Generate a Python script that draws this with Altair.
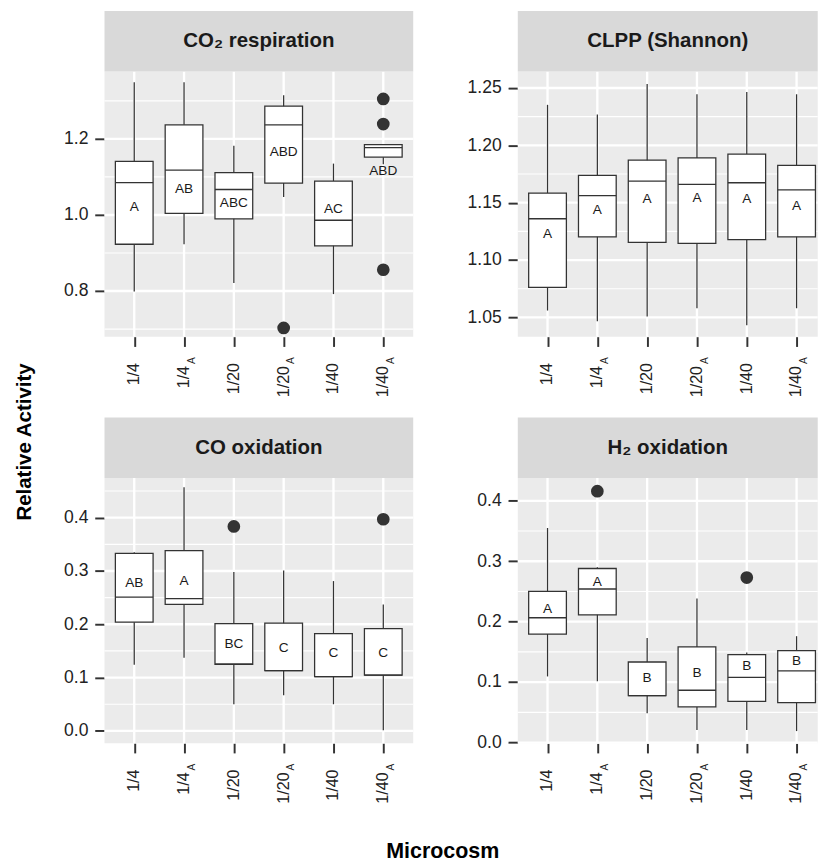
import altair as alt
import pandas as pd

FONT = "Liberation Sans"

cats = ["1/4", "1/4A", "1/20", "1/20A", "1/40", "1/40A"]
label_main = ["1/4", "1/4", "1/20", "1/20", "1/40", "1/40"]
label_sub = ["", "A", "", "A", "", "A"]

# CO2 respiration
co2_lo = [0.799, 0.923, 0.821, 1.047, 0.792, 1.133]
co2_q1 = [0.923, 1.004, 0.990, 1.084, 0.919, 1.152]
co2_med = [1.085, 1.118, 1.067, 1.237, 0.986, 1.177]
co2_q3 = [1.141, 1.237, 1.111, 1.286, 1.089, 1.185]
co2_hi = [1.349, 1.349, 1.182, 1.315, 1.135, 1.185]
co2_letters = ["A", "AB", "ABC", "ABD", "AC", "ABD"]
co2_letter_y = [1.021, 1.067, 1.030, 1.164, 1.015, 1.114]
co2_out_cat = ["1/20A", "1/40A", "1/40A", "1/40A"]
co2_out_val = [0.703, 1.305, 1.239, 0.856]

# CLPP (Shannon)
clpp_lo = [1.056, 1.0467, 1.0509, 1.058, 1.0431, 1.058]
clpp_q1 = [1.0762, 1.1203, 1.1155, 1.1146, 1.1178, 1.1203]
clpp_med = [1.136, 1.1561, 1.1688, 1.166, 1.1674, 1.1612]
clpp_q3 = [1.1584, 1.1738, 1.187, 1.189, 1.1924, 1.1826]
clpp_hi = [1.2353, 1.2269, 1.2535, 1.2445, 1.2465, 1.2445]
clpp_letters = ["A", "A", "A", "A", "A", "A"]
clpp_letter_y = [1.1225, 1.1438, 1.1534, 1.154, 1.1534, 1.1472]
clpp_out_cat = []
clpp_out_val = []

# CO oxidation
co_lo = [0.124, 0.137, 0.050, 0.067, 0.050, 0.001]
co_q1 = [0.204, 0.2374, 0.125, 0.113, 0.1017, 0.1047]
co_med = [0.251, 0.248, 0.125, 0.113, 0.1017, 0.1047]
co_q3 = [0.333, 0.338, 0.201, 0.202, 0.1826, 0.192]
co_hi = [0.335, 0.457, 0.298, 0.301, 0.281, 0.237]
co_letters = ["AB", "A", "BC", "C", "C", "C"]
co_letter_y = [0.277, 0.281, 0.1626, 0.156, 0.1455, 0.146]
co_out_cat = ["1/20", "1/40A"]
co_out_val = [0.3836, 0.397]

# H2 oxidation
h2_lo = [0.1094, 0.1015, 0.0483, 0.0207, 0.0207, 0.019]
h2_q1 = [0.1795, 0.2114, 0.0776, 0.059, 0.068, 0.0659]
h2_med = [0.2066, 0.254, 0.0776, 0.0866, 0.1078, 0.1185]
h2_q3 = [0.250, 0.288, 0.1333, 0.1583, 0.1455, 0.152]
h2_hi = [0.355, 0.290, 0.173, 0.2385, 0.149, 0.176]
h2_letters = ["A", "A", "B", "B", "B", "B"]
h2_letter_y = [0.22, 0.266, 0.1068, 0.1147, 0.127, 0.134]
h2_out_cat = ["1/4A", "1/40"]
h2_out_val = [0.416, 0.273]

H = 272
BOXW = 38.7
DARK = "#333333"
TXT = "#1a1a1a"


def panel(title, lo, q1, med, q3, hi, letters, letter_y, out_cat, out_val,
          domain, ticks, minor, fmt, width):
    box = pd.DataFrame(dict(cat=cats, lo=lo, q1=q1, med=med, q3=q3, hi=hi,
                            letter=letters, ly=letter_y,
                            main=label_main, sub=label_sub))
    xscale = alt.Scale(type="point", domain=cats, range=[30.5, 286.0], padding=0)
    xaxis = alt.Axis(labels=False, title=None, ticks=True, tickSize=10,
                     tickWidth=2, tickColor=DARK, grid=False, domain=False)
    yscale = alt.Scale(domain=domain, nice=False, zero=False)
    yaxis = alt.Axis(values=ticks, format=fmt, title=None, labelFontSize=18,
                     labelColor="#222222", labelFont=FONT, tickSize=10,
                     tickWidth=2, tickColor=DARK, labelPadding=7, grid=False,
                     domain=False)

    def X():
        return alt.X("cat:N", scale=xscale, axis=xaxis)

    def Y(f):
        return alt.Y(f, scale=yscale, axis=yaxis)

    base = alt.Chart(box)
    bg_df = pd.DataFrame({"t": [title]})
    bg = alt.Chart(bg_df).mark_rect(color="#EBEBEB").encode(
        x=alt.value(0), x2=alt.value(width), y=alt.value(0), y2=alt.value(H))
    minor_df = pd.DataFrame({"v": minor})
    minor_rules = alt.Chart(minor_df).mark_rule(color="white", strokeWidth=1.2).encode(
        y=Y("v:Q"))
    major_df = pd.DataFrame({"v": ticks})
    major_rules = alt.Chart(major_df).mark_rule(color="white", strokeWidth=2.4).encode(
        y=Y("v:Q"))
    vert_rules = base.mark_rule(color="white", strokeWidth=2.4).encode(x=X())
    whisk = base.mark_rule(color=DARK, strokeWidth=1.3).encode(
        x=X(), y=Y("lo:Q"), y2="hi:Q")
    boxes = base.mark_bar(width=BOXW, fill="white", stroke=DARK,
                          strokeWidth=1.3).encode(x=X(), y=Y("q1:Q"), y2="q3:Q")
    meds = base.mark_tick(size=BOXW, thickness=1.4, color=DARK, opacity=1).encode(
        x=X(), y=Y("med:Q"))
    lets = base.mark_text(fontSize=14, font=FONT, color=TXT).encode(
        x=X(), y=Y("ly:Q"), text="letter:N")
    layers = [bg, minor_rules, major_rules, vert_rules, whisk, boxes, meds, lets]
    if out_cat:
        out_df = pd.DataFrame({"cat": out_cat, "val": out_val})
        outs = alt.Chart(out_df).mark_circle(size=170, color=DARK, opacity=1).encode(
            x=X(), y=Y("val:Q"))
        layers.append(outs)
    strip = alt.Chart(bg_df).mark_rect(color="#D9D9D9").encode(
        x=alt.value(0), x2=alt.value(width), y=alt.value(-62), y2=alt.value(0))
    strip_txt = alt.Chart(bg_df).mark_text(
        font=FONT, fontSize=21, fontWeight="bold", color=TXT,
        baseline="middle").encode(
        x=alt.value(width / 2), y=alt.value(-31), text="t:N")
    lab_plain = base.transform_filter("datum.sub == ''").mark_text(
        angle=270, align="right", baseline="middle", fontSize=16.5, font=FONT,
        color="#222222").encode(x=X(), y=alt.value(H + 27), text="main:N")
    lab_main = base.transform_filter("datum.sub != ''").mark_text(
        angle=270, align="right", baseline="middle", fontSize=16.5, font=FONT,
        color="#222222").encode(x=X(), y=alt.value(H + 30), text="main:N")
    lab_sub = base.transform_filter("datum.sub != ''").mark_text(
        angle=270, align="right", baseline="middle", fontSize=10.5, font=FONT,
        color="#222222", dy=8).encode(x=X(), y=alt.value(H + 21), text="sub:N")
    layers += [strip, strip_txt, lab_plain, lab_main, lab_sub]
    return alt.layer(*layers).properties(width=width, height=H)


WL = 316.7
WR = 307.7
p1 = panel("CO₂ respiration", co2_lo, co2_q1, co2_med, co2_q3, co2_hi,
           co2_letters, co2_letter_y, co2_out_cat, co2_out_val,
           [0.68, 1.377], [0.8, 1.0, 1.2], [0.7, 0.9, 1.1, 1.3], ".1f", WL)
p2 = panel("CLPP (Shannon)", clpp_lo, clpp_q1, clpp_med, clpp_q3, clpp_hi,
           clpp_letters, clpp_letter_y, clpp_out_cat, clpp_out_val,
           [1.0332, 1.2643], [1.05, 1.10, 1.15, 1.20, 1.25],
           [1.075, 1.125, 1.175, 1.225], ".2f", WR)
p3 = panel("CO oxidation", co_lo, co_q1, co_med, co_q3, co_hi,
           co_letters, co_letter_y, co_out_cat, co_out_val,
           [-0.023, 0.4743], [0.0, 0.1, 0.2, 0.3, 0.4],
           [0.05, 0.15, 0.25, 0.35, 0.45], ".1f", WL)
p4 = panel("H₂ oxidation", h2_lo, h2_q1, h2_med, h2_q3, h2_hi,
           h2_letters, h2_letter_y, h2_out_cat, h2_out_val,
           [-0.001, 0.4377], [0.0, 0.1, 0.2, 0.3, 0.4],
           [0.05, 0.15, 0.25, 0.35], ".1f", WR)

ytitle = alt.Chart(pd.DataFrame({"t": ["Relative Activity"]})).mark_text(
    angle=270, font=FONT, fontSize=21, fontWeight="bold", color="#000000",
    baseline="middle", align="center").encode(
    x=alt.value(10), y=alt.value(380), text="t:N").properties(width=20, height=700)
xtitle = alt.Chart(pd.DataFrame({"t": ["Microcosm"]})).mark_text(
    font=FONT, fontSize=22, fontWeight="bold", color="#000000",
    baseline="middle", align="center").encode(
    x=alt.value(347), y=alt.value(28), text="t:N").properties(width=400, height=38)

row1 = alt.hconcat(p1, p2, spacing=53)
row2 = alt.hconcat(p3, p4, spacing=63)
inner = alt.vconcat(row1, row2, xtitle, spacing=20)
chart = alt.hconcat(ytitle, inner, spacing=28).properties(
    padding={"left": 7, "top": -8, "right": 0, "bottom": 0}
).configure(font=FONT).configure_view(strokeWidth=0)

chart.save("out.html", embed_options={"renderer": "svg", "actions": False})
